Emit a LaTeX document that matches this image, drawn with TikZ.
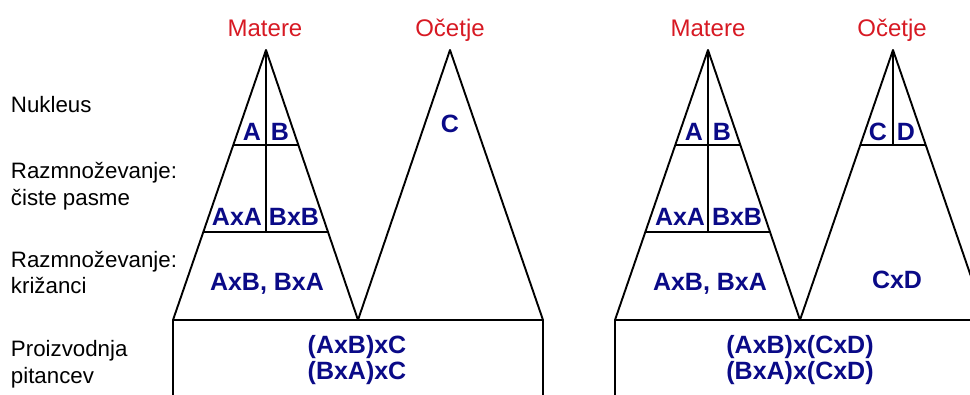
\documentclass[tikz,border=0pt]{standalone}
\usepackage{fontspec}
\setmainfont{Liberation Sans}
\usetikzlibrary{calc}
\definecolor{tred}{RGB}{215,25,35}
\definecolor{tblue}{RGB}{10,10,135}
\begin{document}
\begin{tikzpicture}[x=1bp,y=-1bp, line width=1.9bp, line join=round,
  side/.style={font=\fontsize{22.3bp}{26bp}\selectfont, anchor=base west, inner sep=0pt},
  title/.style={font=\fontsize{24bp}{28bp}\selectfont, text=tred, anchor=base, inner sep=0pt},
  gene/.style={font=\fontsize{25bp}{29bp}\selectfont\bfseries, text=tblue, anchor=base, inner sep=0pt}]
\useasboundingbox (0,0) rectangle (970,394);
\clip (0,0) rectangle (970,394);

% ---------- left scheme ----------
\coordinate (m1A) at (266,50);
\coordinate (m1L) at (173,320);
\coordinate (m1R) at (358,320);
\coordinate (f1A) at (450,50);
\coordinate (f1R) at (543,320);
\draw (m1L) -- (m1A) -- (m1R) -- (f1A) -- (f1R);
\draw (173,400) -- (m1L) -- (f1R) -- (543,400);
\draw (m1A) -- (266,232);
\draw ($(m1A)!0.3519!(m1L)$) -- ($(m1A)!0.3519!(m1R)$);
\draw ($(m1A)!0.674!(m1L)$) -- ($(m1A)!0.674!(m1R)$);

% ---------- right scheme ----------
\coordinate (m2A) at (708,50);
\coordinate (m2L) at (615,320);
\coordinate (m2R) at (800,320);
\coordinate (f2A) at (893,50);
\coordinate (f2R) at (986,320);
\draw (m2L) -- (m2A) -- (m2R) -- (f2A) -- (f2R);
\draw (615,400) -- (m2L) -- (f2R) -- (1000,320);
\draw (m2A) -- (708,232);
\draw ($(m2A)!0.3519!(m2L)$) -- ($(m2A)!0.3519!(m2R)$);
\draw ($(m2A)!0.674!(m2L)$) -- ($(m2A)!0.674!(m2R)$);
\draw (f2A) -- (893,145);
\draw ($(f2A)!0.3519!(m2R)$) -- ($(f2A)!0.3519!(f2R)$);

% ---------- side labels ----------
\node[side] (l1) at (10,112) {Nukleus};
\node[side] (l2a) at (10,178) {Razmnoževanje:};
\node[side] (l2b) at (10,205) {čiste pasme};
\node[side] (l3a) at (10,267) {Razmnoževanje:};
\node[side] (l3b) at (10,293) {križanci};
\node[side] (l4a) at (10,356) {Proizvodnja};
\node[side] (l4b) at (10,383) {pitancev};

% ---------- titles ----------
\node[title] (t1) at (265,36) {Matere};
\node[title] (t2) at (450,36) {Očetje};
\node[title] (t3) at (708,36) {Matere};
\node[title] (t4) at (892,36) {Očetje};

% ---------- genotypes left ----------
\node[gene] (a1) at (252,140) {A};
\node[gene] (b1) at (280,140) {B};
\node[gene] (c1) at (450,132) {C};
\node[gene] (aa1) at (237,225) {AxA};
\node[gene] (bb1) at (294,225) {BxB};
\node[gene] (ab1) at (267,290) {AxB, BxA};
\node[gene] (p1a) at (357,353) {(AxB)xC};
\node[gene] (p1b) at (357,379) {(BxA)xC};

% ---------- genotypes right ----------
\node[gene] (a2) at (694,140) {A};
\node[gene] (b2) at (722,140) {B};
\node[gene] (c2) at (878,140) {C};
\node[gene] (d2) at (906,140) {D};
\node[gene] (aa2) at (680,225) {AxA};
\node[gene] (bb2) at (737,225) {BxB};
\node[gene] (ab2) at (710,290) {AxB, BxA};
\node[gene] (cd2) at (897,288) {CxD};
\node[gene] (p2a) at (800,353) {(AxB)x(CxD)};
\node[gene] (p2b) at (800,379) {(BxA)x(CxD)};
\end{tikzpicture}
\end{document}
